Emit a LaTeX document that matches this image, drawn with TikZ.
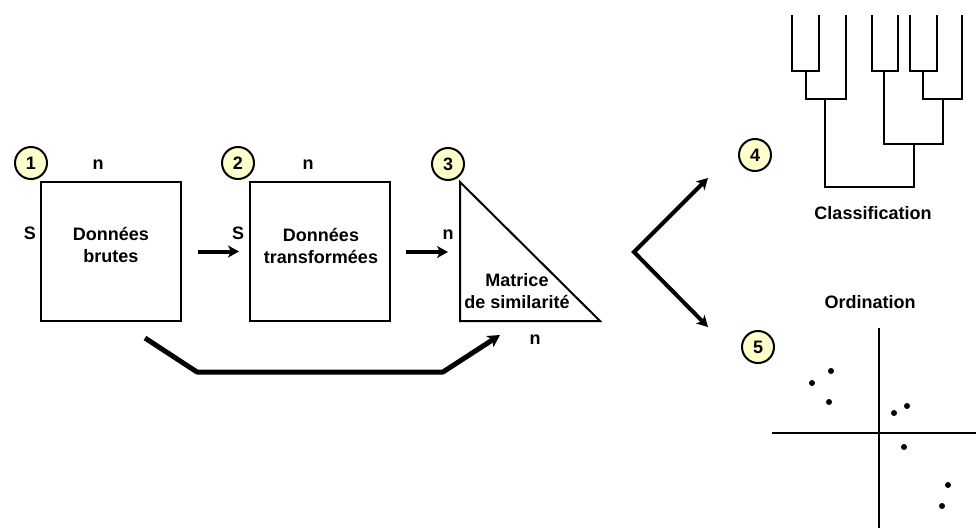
\documentclass[tikz,border=0pt]{standalone}
\usepackage{fontspec}
\setmainfont{Liberation Sans}
\usetikzlibrary{arrows.meta}
\definecolor{badgefill}{RGB}{255,255,204}

\begin{document}
\begin{tikzpicture}[x=1pt,y=-1pt,
  lbl/.style={font=\bfseries\fontsize{18}{22}\selectfont, inner sep=0pt, align=center},
  databox/.style={draw, line width=2pt, minimum width=140pt, minimum height=139pt, inner sep=0pt},
  badge/.style={circle, draw, line width=2pt, fill=badgefill, minimum size=32pt, inner sep=0pt,
                font=\bfseries\fontsize{18}{18}\selectfont},
  flow/.style={line width=4pt, -{Stealth[length=11pt,width=12pt,inset=3pt]}},
  twoflow/.style={line width=4pt, line join=miter, {Stealth[length=11pt,width=12pt,inset=3pt]}-{Stealth[length=11pt,width=12pt,inset=3pt]}},
  thickflow/.style={line width=5pt, line join=round, -{Stealth[length=12pt,width=13pt,inset=3pt]}},
  tree/.style={line width=2.2pt, line join=miter},
  dot/.style={circle, fill=black, inner sep=0pt, minimum size=6pt}
]
\useasboundingbox (0,0) rectangle (976,528);

% --- step 1: raw data table
\node[databox] (b1) at (111,251.5) {};
\node[lbl] (t1) at (111,245) {Données\\brutes};
\node[lbl] (s1) at (30,233) {S};
\node[lbl] (n1) at (98,165) {n};
\node[badge] (c1) at (31,163) {1};

% --- step 2: transformed data table
\node[databox] (b2) at (320,251.5) {};
\node[lbl] (t2) at (321,246) {Données\\transformées};
\node[lbl] (s2) at (238,233) {S};
\node[lbl] (n2) at (308,165) {n};
\node[badge] (c2) at (238,163) {2};

% --- step 3: similarity matrix (lower triangle)
\coordinate (tA) at (460,182);
\coordinate (tB) at (460,321);
\coordinate (tC) at (600,321);
\draw[line width=2pt, line join=miter] (tA) -- (tB) -- (tC) -- cycle;
\node[lbl] (t3) at (517,291) {Matrice\\de similarité};
\node[lbl] (n3a) at (448,235) {n};
\node[lbl] (n3b) at (535,340) {n};
\node[badge] (c3) at (448,164) {3};

% --- arrows between the steps
\draw[flow] ([xshift=16pt]b1.east) -- ([xshift=-10pt]b2.west);
\coordinate (from2) at (406,252);
\coordinate (into3) at (448,252);
\draw[flow] (from2) -- (into3);

% direct path from raw data to the similarity matrix
\coordinate (skipA) at (145,338);
\coordinate (skipB) at (197,372);
\coordinate (skipC) at (443,372);
\coordinate (skipD) at (500,335);
\draw[thickflow] (skipA) -- (skipB) -- (skipC) -- (skipD);

% fork towards the two kinds of analysis
\coordinate (fork) at (634,252);
\coordinate (to4) at (708,178);
\coordinate (to5) at (708,327);
\draw[twoflow] (to4) -- (fork) -- (to5);

% --- step 4: classification (dendrogram)
\node[badge] (c4) at (755,155) {4};
\draw[tree] (792,15) -- (792,71) -- (819,71) -- (819,15);
\draw[tree] (806,71) -- (806,99) -- (846,99) -- (846,15);
\draw[tree] (872,15) -- (872,71) -- (898,71) -- (898,15);
\draw[tree] (910,15) -- (910,71) -- (937,71) -- (937,15);
\draw[tree] (923,71) -- (923,99) -- (962,99) -- (962,15);
\draw[tree] (884,71) -- (884,144) -- (943,144) -- (943,99);
\draw[tree] (825,99) -- (825,187) -- (914,187) -- (914,144);
\node[lbl] (cls) at (873,213) {Classification};

% --- step 5: ordination (scatter plot)
\node[lbl] (ord) at (870,302) {Ordination};
\node[badge] (c5) at (758,347) {5};
\draw[line width=2.5pt] (879,328) -- (879,528);
\draw[line width=2.5pt] (772,433) -- (976,433);
\foreach \px/\py [count=\i] in {812/383, 831/371, 829/402, 894/413, 907/406, 904/447, 948/485, 942/506}
  \node[dot] (p\i) at (\px,\py) {};
\end{tikzpicture}
\end{document}
